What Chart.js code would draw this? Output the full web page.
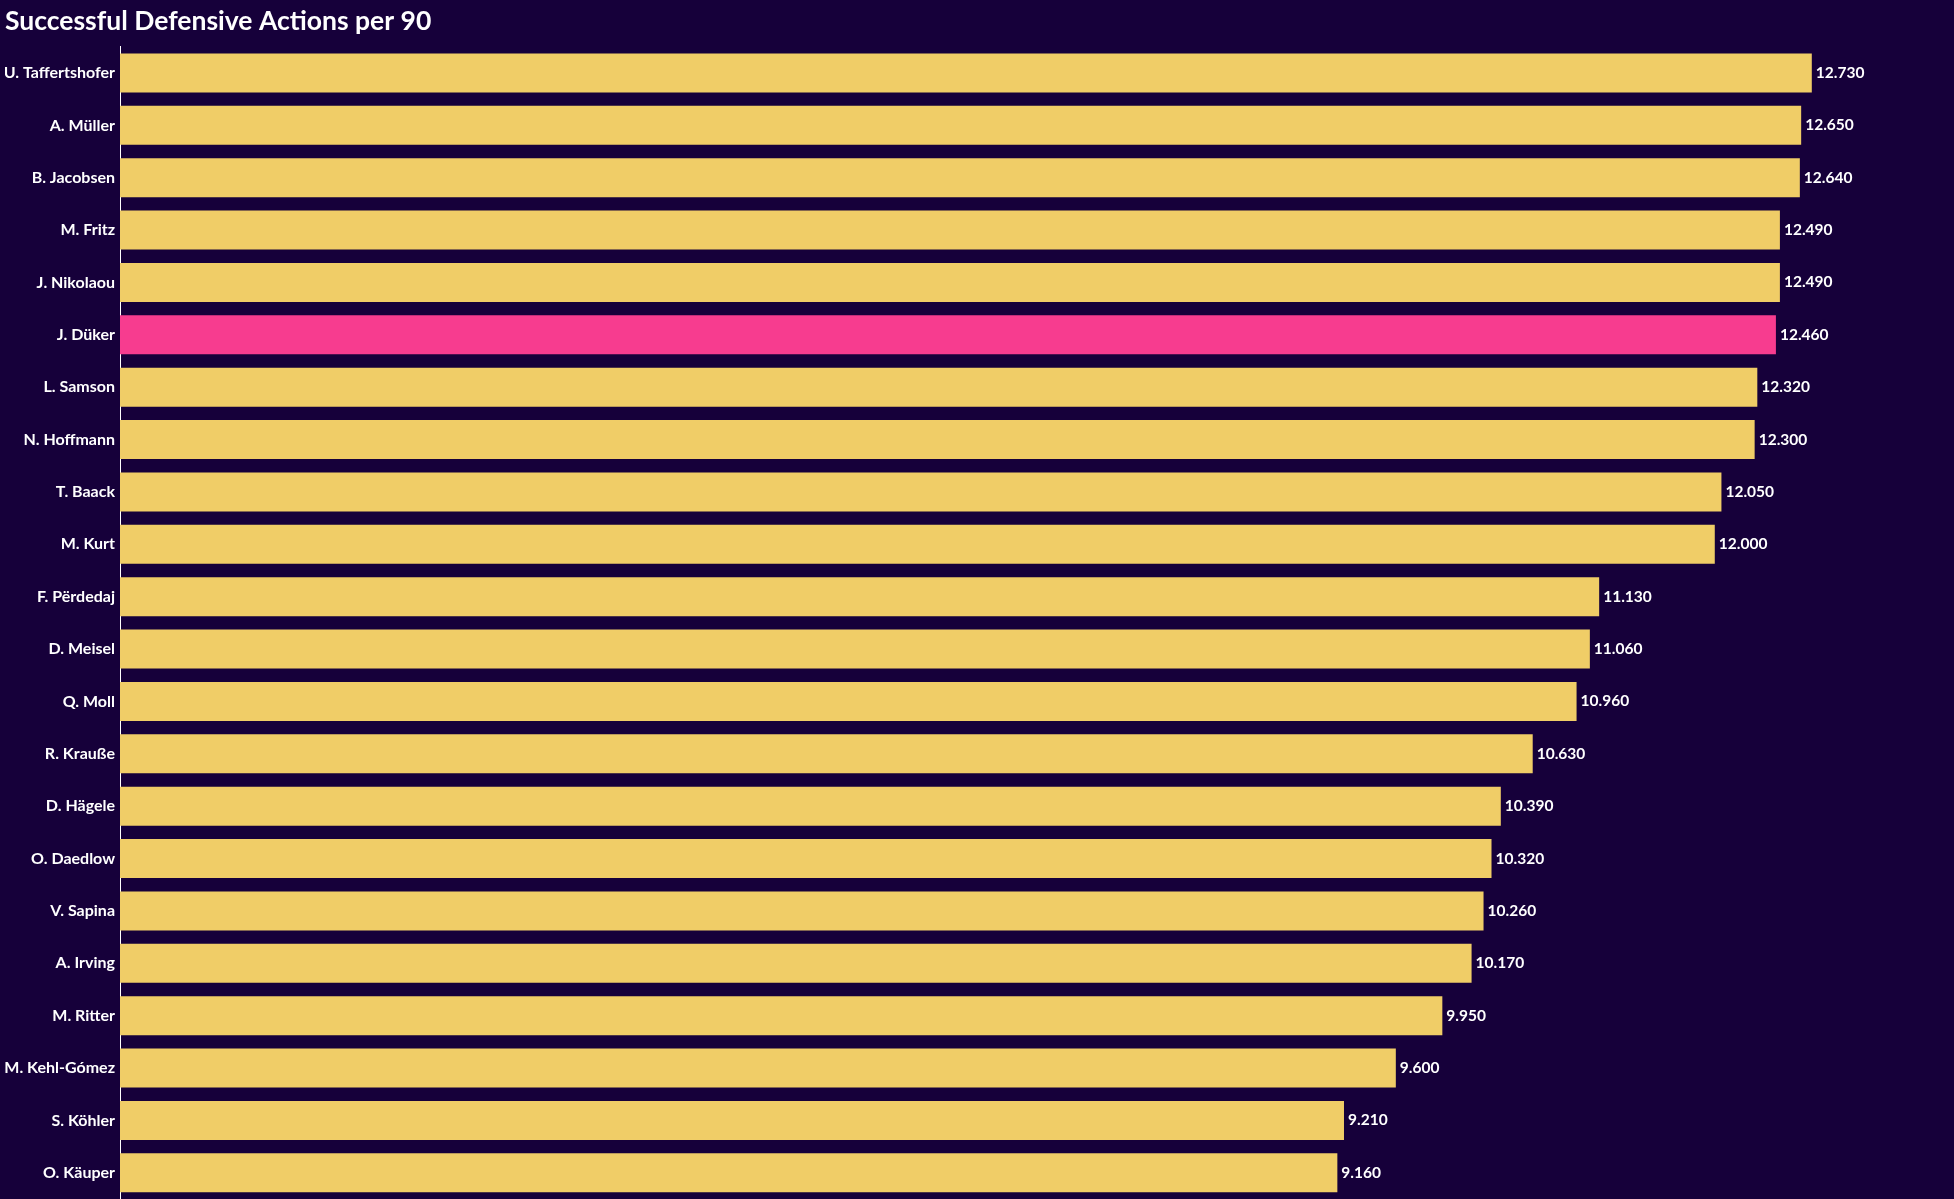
<!DOCTYPE html>
<html>
<head>
<meta charset="utf-8">
<script src="https://cdn.jsdelivr.net/npm/chart.js@4"></script>
<style>
    html, body { margin: 0; padding: 0; background: #16003a; }
    #wrap { width: 1954px; height: 1199px; }
</style>
</head>
<body>
<div id="wrap"><canvas id="defChart"></canvas></div>
<script>
// 球员和数据
const players = ['U. Taffertshofer', 'A. Müller', 'B. Jacobsen', 'M. Fritz', 'J. Nikolaou', 'J. Düker',
    'L. Samson', 'N. Hoffmann', 'T. Baack', 'M. Kurt', 'F. Përdedaj', 'D. Meisel', 'Q. Moll',
    'R. Krauße', 'D. Hägele', 'O. Daedlow', 'V. Sapina', 'A. Irving', 'M. Ritter',
    'M. Kehl-Gómez', 'S. Köhler', 'O. Käuper'];
const actionsPer90 = [12.73, 12.65, 12.64, 12.49, 12.49, 12.46, 12.32, 12.30, 12.05, 12.00,
    11.13, 11.06, 10.96, 10.63, 10.39, 10.32, 10.26, 10.17, 9.95, 9.60, 9.21, 9.16];
const highlightPlayer = 'J. Düker';

const barColors = players.map(p => p === highlightPlayer ? '#f73c8f' : '#f0cd67');

// 数值标签
const valueLabels = {
    id: 'valueLabels',
    afterDatasetsDraw(chart) {
        const ctx = chart.ctx;
        const meta = chart.getDatasetMeta(0);
        ctx.save();
        ctx.fillStyle = '#ffffff';
        ctx.font = 'bold 15.5px Lato';
        ctx.textAlign = 'left';
        ctx.textBaseline = 'middle';
        meta.data.forEach((bar, i) => {
            ctx.fillText(actionsPer90[i].toFixed(3), bar.x + 4, bar.y);
        });
        ctx.restore();
    }
};

new Chart(document.getElementById('defChart').getContext('2d'), {
    type: 'bar',
    data: {
        labels: players,
        datasets: [{
            data: actionsPer90,
            backgroundColor: barColors,
            categoryPercentage: 1,
            barPercentage: 0.745
        }]
    },
    options: {
        indexAxis: 'y',
        responsive: true,
        maintainAspectRatio: false,
        animation: false,
        layout: { padding: { left: 5, right: 0, top: 0, bottom: 0 } },
        plugins: {
            legend: { display: false },
            tooltip: { enabled: false },
            title: {
                display: true,
                text: 'Successful Defensive Actions per 90',
                align: 'start',
                color: '#ffffff',
                font: { family: 'Lato', size: 26.5, weight: 'bold' },
                padding: { top: 6, bottom: 9 }
            }
        },
        scales: {
            x: {
                display: false,
                min: 0,
                max: 13.8
            },
            y: {
                grid: { display: false, drawTicks: false },
                border: { display: true, color: '#ffffff', width: 1 },
                ticks: {
                    color: '#ffffff',
                    padding: 5,
                    font: { family: 'Lato', size: 16, weight: 'bold' }
                },
                afterFit(scale) {
                    scale.width = 115;
                    scale.paddingTop = 0;
                    scale.paddingBottom = 0;
                }
            }
        }
    },
    plugins: [valueLabels]
});
</script>
</body>
</html>
